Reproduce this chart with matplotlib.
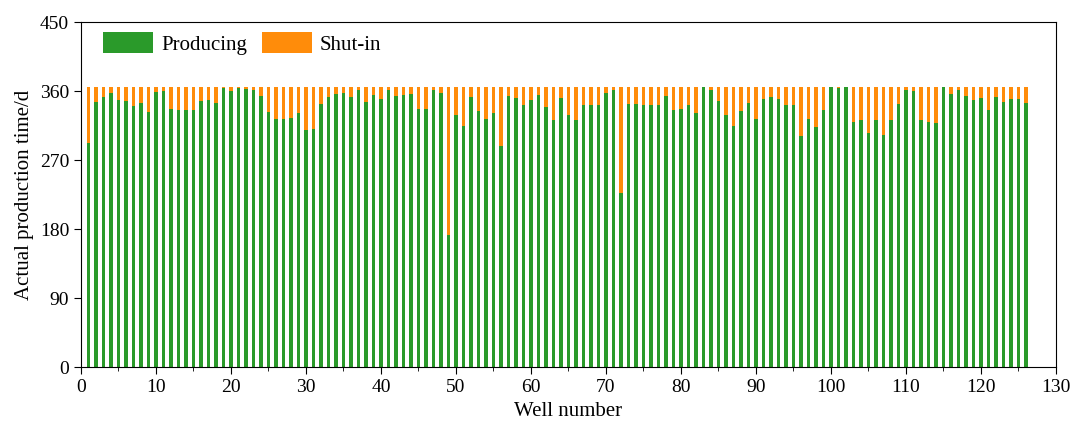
import numpy as np
import matplotlib.pyplot as plt
from matplotlib.ticker import MultipleLocator

plt.rcParams['font.family'] = ['Liberation Serif', 'DejaVu Serif']

total_days = 365
# days in production for wells 1..126
producing = [
    292, 346, 352, 357, 349, 347, 341, 345, 333, 359,
    360, 337, 335, 335, 335, 347, 349, 344, 364, 360,
    364, 363, 362, 354, 333, 324, 324, 325, 331, 309,
    310, 343, 352, 356, 357, 352, 361, 346, 355, 350,
    361, 354, 355, 356, 336, 336, 362, 358, 172, 329,
    315, 352, 334, 323, 331, 288, 353, 351, 342, 349,
    355, 339, 322, 351, 329, 322, 342, 342, 342, 358,
    361, 227, 343, 343, 342, 342, 342, 353, 335, 336,
    342, 332, 365, 361, 347, 329, 315, 334, 344, 324,
    350, 352, 350, 342, 342, 302, 324, 313, 335, 365,
    364, 365, 320, 322, 305, 322, 303, 322, 343, 362,
    360, 322, 320, 318, 365, 356, 362, 354, 349, 351,
    335, 352, 346, 350, 350, 344,
]
wells = np.arange(1, len(producing) + 1)
producing = np.array(producing)
shut_in = total_days - producing

fig = plt.figure(figsize=(10.75, 4.24), dpi=100)
ax = fig.add_axes([0.0753, 0.134, 0.907, 0.814])

ax.bar(wells, producing, width=0.5, color='#2a9a2a', label='Producing')
ax.bar(wells, shut_in, width=0.5, bottom=producing, color='#ff8c0a', label='Shut-in')

ax.set_xlim(0, 130)
ax.set_ylim(0, 450)
ax.xaxis.set_major_locator(MultipleLocator(10))
ax.xaxis.set_minor_locator(MultipleLocator(5))
ax.yaxis.set_major_locator(MultipleLocator(90))
ax.tick_params(axis='both', which='both', direction='out', labelsize=14)
ax.tick_params(which='major', length=5)
ax.tick_params(which='minor', length=3)

ax.set_xlabel('Well number', fontsize=15, labelpad=4)
ax.set_ylabel('Actual production time/d', fontsize=15)

ax.legend(loc='upper left', ncol=2, frameon=False, fontsize=15,
          handlelength=2.4, handleheight=1.2, handletextpad=0.4,
          columnspacing=0.7, borderaxespad=0, bbox_to_anchor=(0.014, 0.995))

fig.savefig('out.png', dpi=100)
